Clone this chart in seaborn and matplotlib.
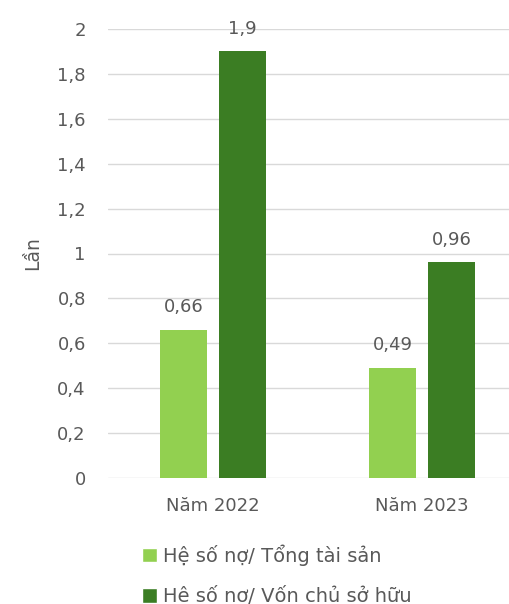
import matplotlib
matplotlib.use("Agg")
import matplotlib.pyplot as plt
import seaborn as sns
import pandas as pd
from matplotlib.ticker import FuncFormatter
from matplotlib.patches import Patch

years = ["Năm 2022", "Năm 2023"]
series = ["Hệ số nợ/ Tổng tài sản", "Hê số nơ/ Vốn chủ sở hữu"]
debt_assets = [0.66, 0.49]
debt_equity = [1.9, 0.96]
colors = ["#92D050", "#3B7D23"]

df = pd.DataFrame({
    "year": years * 2,
    "series": [series[0]] * 2 + [series[1]] * 2,
    "value": debt_assets + debt_equity,
})

sns.set_style("white")
plt.rcParams["font.family"] = ["DejaVu Sans"]
grey = "#595959"

fig = plt.figure(figsize=(5.1, 6.04), dpi=100)
ax = fig.add_axes([108 / 510, 1 - 478 / 604, 402 / 510, (478 - 29) / 604])

sns.barplot(data=df, x="year", y="value", hue="series", palette=colors,
            saturation=1, width=0.5646, gap=0.2034, linewidth=0,
            ax=ax, legend=False, zorder=3)

for cont in ax.containers:
    ax.bar_label(cont, labels=[f"{v:g}".replace(".", ",") for v in cont.datavalues],
                 padding=10, fontsize=13, color=grey)

ax.set_ylim(0, 2)
ax.set_yticks([i / 5 for i in range(11)])
ax.yaxis.set_major_formatter(FuncFormatter(lambda v, p: f"{v:g}".replace(".", ",")))
ax.set_xlim(-0.502, 1.421)
ax.grid(axis="y", color="#D9D9D9", linewidth=1, zorder=0)
for s in ax.spines.values():
    s.set_visible(False)
ax.tick_params(axis="both", length=0, labelsize=13, labelcolor=grey)
ax.tick_params(axis="y", pad=16)
ax.tick_params(axis="x", pad=14)
ax.set_xlabel("")
ax.set_ylabel("Lần", fontsize=13.5, color=grey)
ax.yaxis.set_label_coords(-0.165, 0.5)

handles = [Patch(facecolor=c, label=l) for c, l in zip(colors, series)]
fig.legend(handles=handles, loc="upper left", bbox_to_anchor=(142 / 510, 1 - 544 / 604),
           frameon=False, fontsize=14, labelcolor=grey, handlelength=0.75,
           handleheight=0.75, handletextpad=0.35, labelspacing=1.12,
           borderpad=0, borderaxespad=0)

fig.savefig("out.png", dpi=100)
